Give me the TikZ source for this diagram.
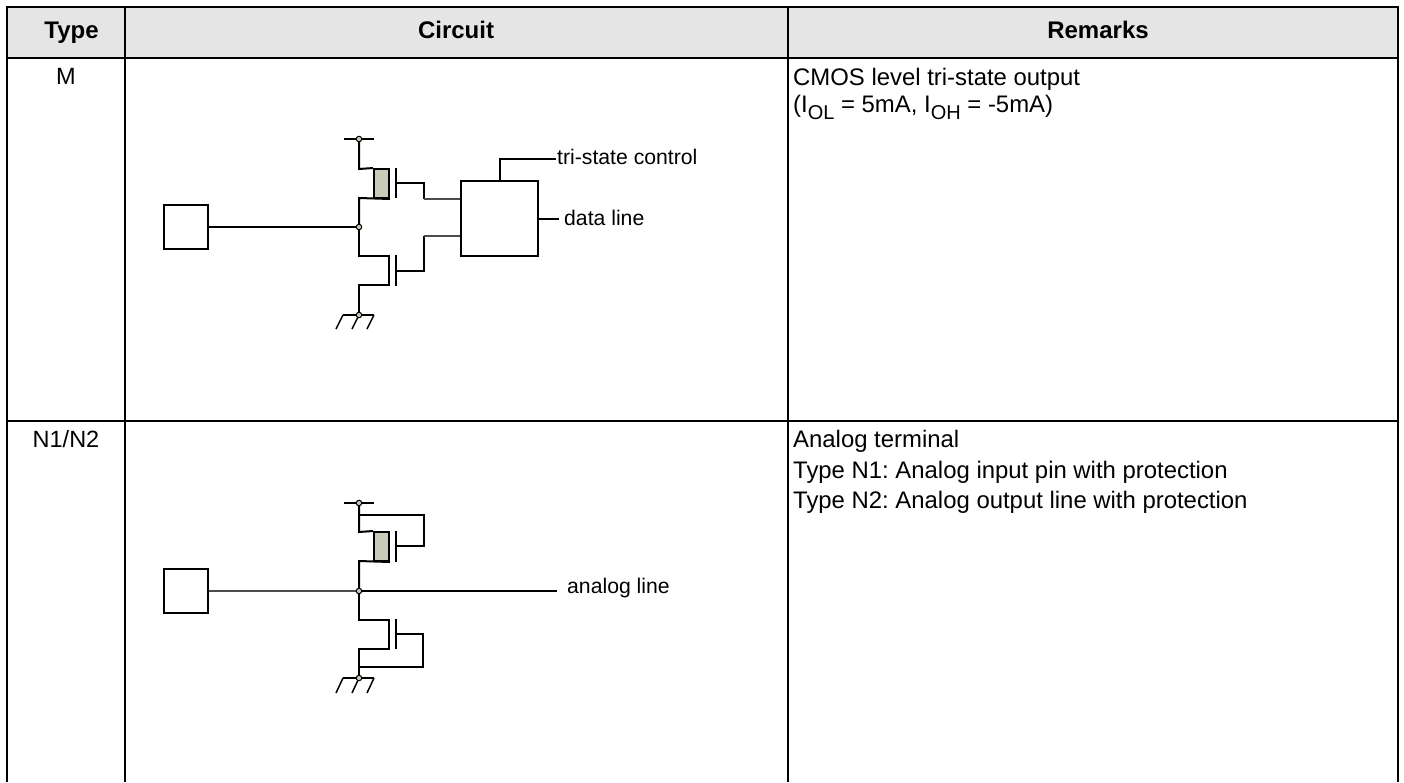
\documentclass[tikz,border=0pt]{standalone}
\usepackage{fontspec}
\setmainfont{Liberation Sans}
\definecolor{headgray}{HTML}{E5E5E5}
\definecolor{bodygray}{HTML}{C8CABA}
\newcommand{\lowtext}[1]{\raisebox{-0.3em}{\fontsize{20}{20}\selectfont #1}}
\tikzset{
  rule/.style={line width=2pt},
  wire/.style={line width=2pt},
  thinwire/.style={line width=1.2pt, black!70},
  pad/.style={draw, line width=2pt, inner sep=0pt, minimum size=44pt},
  body/.style={draw, line width=2pt, fill=bodygray, inner sep=0pt, minimum width=15pt, minimum height=29pt},
  logicbox/.style={draw, line width=2pt, inner sep=0pt, minimum width=77pt, minimum height=75pt},
  dot/.style={circle, draw, line width=1pt, fill=bodygray, inner sep=0pt, minimum size=5.5pt},
  txt/.style={inner sep=0pt, anchor=base west, font=\frenchspacing\fontsize{23.9}{26}\selectfont},
  labeltxt/.style={inner sep=0pt, anchor=base west, font=\fontsize{21.2}{24}\selectfont},
  headtxt/.style={inner sep=0pt, anchor=base, font=\fontsize{24}{26}\selectfont\bfseries},
  typetxt/.style={inner sep=0pt, anchor=base, font=\fontsize{23.5}{26}\selectfont}
}
\begin{document}
\begin{tikzpicture}[x=1pt, y=-1pt]
  \useasboundingbox (0,0) rectangle (1404,782);
  % table
  \fill[headgray] (7,7) rectangle (1398,58);
  \draw[rule] (7,782) -- (7,7) -- (1398,7) -- (1398,782);
  \draw[rule] (125,7) -- (125,782);
  \draw[rule] (788,7) -- (788,782);
  \draw[rule] (7,58) -- (1398,58);
  \draw[rule] (7,421) -- (1398,421);
  \node[headtxt] (typehead) at (71.5,38) {Type};
  \node[headtxt] (circuithead) at (456,38) {Circuit};
  \node[headtxt] (remarkhead) at (1098,38) {Remarks};
  \node[typetxt] (typeM) at (66,84.5) {M};
  \node[typetxt] (typeN) at (66,447) {N1/N2};
  \node[txt] (remarkMa) at (793,85) {CMOS level tri-state output};
  \node[txt] (remarkMb) at (793,112) {(I\lowtext{OL} = 5mA, I\lowtext{OH} = -5mA)};
  \node[txt] (remarkNa) at (793,447) {Analog terminal};
  \node[txt] (remarkNb) at (793,478) {Type N1: Analog input pin with protection};
  \node[txt] (remarkNc) at (793,508) {Type N2: Analog output line with protection};

  % type M circuit
  \node[pad] (padM) at (186,227) {};
  \node[logicbox] (logicM) at (499.5,218.5) {};
  \node[body] (bodyM) at (381.5,183.5) {};
  \coordinate (vddM) at (359,139);
  \coordinate (gndM) at (359,315);
  \coordinate (outM) at (359,227);
  \draw[wire] (344,139) -- (374,139);
  \draw[wire] (vddM) -- (359,169) -- (bodyM.north west);
  \draw[wire] (bodyM.south east) -- (359,198) -- (outM);
  \draw[wire] (padM) -- (outM);
  \draw[wire] (396,168) -- (396,198);
  \draw[wire] (396,183) -- (424,183) -- (424,199);
  \draw[thinwire] (424,199) -- (logicM.west |- 424,199);
  \draw[wire] (outM) -- (359,256) -- (389,256) -- (389,285) -- (359,285) -- (gndM);
  \draw[wire] (396,255) -- (396,286);
  \draw[wire] (396,271) -- (424,271) -- (424,236);
  \draw[thinwire] (424,236) -- (logicM.west |- 424,236);
  \draw[wire] (logicM.north) -- (499.5,159) -- (556,159);
  \draw[wire] (logicM.east) -- (559,218.5);
  \node[labeltxt] (ctrlM) at (557,164) {tri-state control};
  \node[labeltxt] (dataM) at (564,225) {data line};
  \draw[wire] (343,315) -- (374,315);
  \draw[line width=1.5pt] (343,315) -- (336,329) (359,315) -- (352,329) (374,315) -- (367,329);
  \node[dot] (dotvddM) at (vddM) {};
  \node[dot] (dotoutM) at (outM) {};
  \node[dot] (dotgndM) at (gndM) {};

  % type N circuit
  \node[pad] (padN) at (186,591) {};
  \node[body] (bodyN) at (381.5,546.5) {};
  \coordinate (vddN) at (359,503);
  \coordinate (gndN) at (359,678);
  \coordinate (outN) at (359,591);
  \draw[wire] (344,503) -- (374,503);
  \draw[wire] (vddN) -- (359,532) -- (bodyN.north west);
  \draw[wire] (359,515) -- (424,515) -- (424,546) -- (396,546);
  \draw[wire] (bodyN.south east) -- (359,561) -- (outN);
  \draw[thinwire] (padN) -- (outN);
  \draw[wire] (outN) -- (557,591);
  \draw[wire] (396,531) -- (396,562);
  \draw[wire] (outN) -- (359,620) -- (389,620) -- (389,649) -- (359,649) -- (gndN);
  \draw[wire] (396,619) -- (396,649);
  \draw[wire] (396,634) -- (423,634) -- (423,667) -- (359,667);
  \node[labeltxt] (lineN) at (567,593.5) {analog line};
  \draw[wire] (343,678) -- (374,678);
  \draw[line width=1.5pt] (343,678) -- (336,693) (359,678) -- (352,693) (374,678) -- (367,693);
  \node[dot] (dotvddN) at (vddN) {};
  \node[dot] (dotoutN) at (outN) {};
  \node[dot] (dotgndN) at (gndN) {};
\end{tikzpicture}
\end{document}
